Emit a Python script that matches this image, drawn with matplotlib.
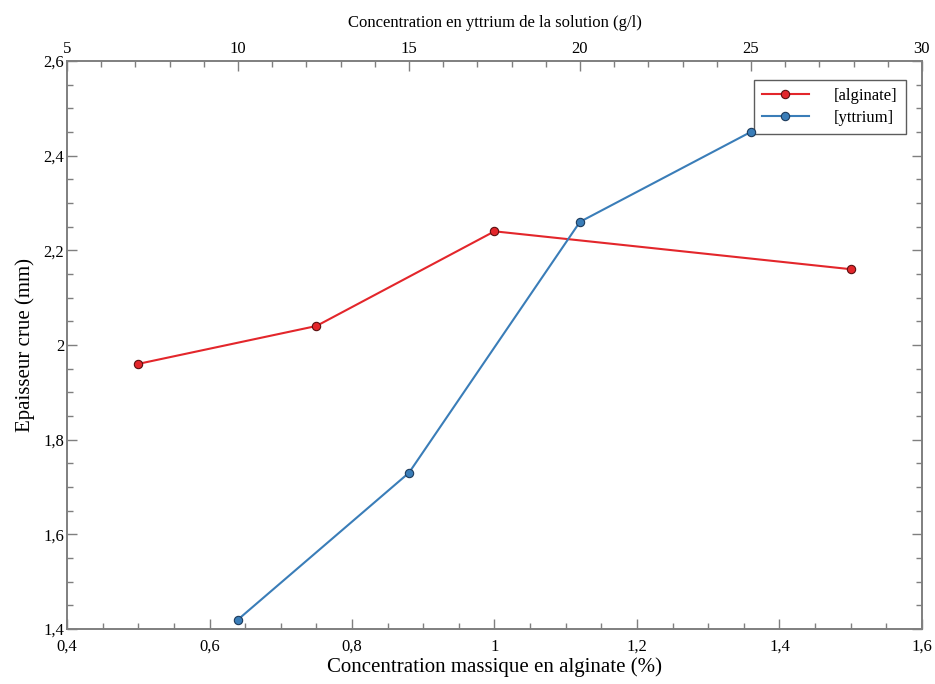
import matplotlib
matplotlib.use("Agg")
import matplotlib.pyplot as plt
from matplotlib.ticker import FuncFormatter, MultipleLocator

# data
alginate_pct = [0.5, 0.75, 1.0, 1.5]
alginate_thick = [1.96, 2.04, 2.24, 2.16]
yttrium_gl = [10, 15, 20, 25]
yttrium_thick = [1.42, 1.73, 2.26, 2.45]

plt.rcParams["font.family"] = ["Liberation Serif", "DejaVu Serif"]

red = "#e3262b"
blue = "#3a7db8"
spine_col = "#7f7f7f"


def comma(val, _):
    return ("%g" % round(val, 4)).replace(".", ",")


fig = plt.figure(figsize=(9.35, 6.84), dpi=100)
ax = fig.add_axes([0.0717, 0.0804, 0.9143, 0.8306])
ax2 = ax.twiny()

l1, = ax.plot(alginate_pct, alginate_thick, color=red, marker="o", markersize=6,
              markeredgecolor="#5a1010", markeredgewidth=0.8, linewidth=1.5, label="[alginate]")
l2, = ax2.plot(yttrium_gl, yttrium_thick, color=blue, marker="o", markersize=6,
               markeredgecolor="#1d3b5c", markeredgewidth=0.8, linewidth=1.5, label="[yttrium]",
               zorder=6)

ax.set_xlim(0.4, 1.6)
ax.set_ylim(1.4, 2.6)
ax2.set_xlim(5, 30)

ax.xaxis.set_major_locator(MultipleLocator(0.2))
ax.xaxis.set_minor_locator(MultipleLocator(0.05))
ax.yaxis.set_major_locator(MultipleLocator(0.2))
ax.yaxis.set_minor_locator(MultipleLocator(0.05))
ax2.xaxis.set_major_locator(MultipleLocator(5))
ax2.xaxis.set_minor_locator(MultipleLocator(1))
ax.xaxis.set_major_formatter(FuncFormatter(comma))
ax.yaxis.set_major_formatter(FuncFormatter(comma))

for a in (ax, ax2):
    for s in a.spines.values():
        s.set_color(spine_col)
        s.set_linewidth(1.2)
    a.tick_params(which="both", direction="in", color=spine_col, labelsize=12, pad=3)
    a.tick_params(which="major", length=7, width=1)
    a.tick_params(which="minor", length=4, width=1)
ax.tick_params(which="both", right=True)
ax.tick_params(axis="x", pad=7)
ax.tick_params(axis="y", pad=2)

ax.set_xlabel("Concentration massique en alginate (%)", fontsize=15, labelpad=2)
ax.set_ylabel("Epaisseur crue (mm)", fontsize=15, labelpad=6)
ax2.set_xlabel("Concentration en yttrium de la solution (g/l)", fontsize=12, labelpad=10)

leg = ax2.legend(handles=[l1, l2], loc="upper right", bbox_to_anchor=(0.981, 0.9665),
                 borderaxespad=0, fontsize=12, frameon=True, fancybox=False, borderpad=0.5,
                 handlelength=2.8, handletextpad=1.5, labelspacing=0.35)
leg.get_frame().set_edgecolor("#333333")
leg.get_frame().set_linewidth(1.0)
leg.set_zorder(5)

fig.savefig("out.png", dpi=100)
